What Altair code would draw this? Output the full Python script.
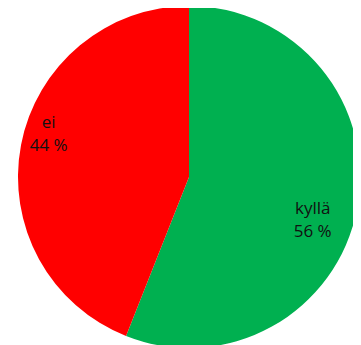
import altair as alt
import pandas as pd

categories = ["kyllä", "ei"]
values = [56, 44]
labels = ["56 %", "44 %"]
colors = ["#00B050", "#FF0000"]

df = pd.DataFrame({"category": categories, "value": values, "label": labels,
                   "order": list(range(len(categories)))})
df["text"] = [f"{c}\n{l}" for c, l in zip(categories, labels)]

CX, CY = 181, 169

base = alt.Chart(df).encode(
    theta=alt.Theta("value:Q", stack=True),
    order=alt.Order("order:Q"),
    x=alt.value(CX), y=alt.value(CY),
)

pie = base.mark_arc(radius=171).encode(
    color=alt.Color("category:N", scale=alt.Scale(domain=categories, range=colors), legend=None),
)

def label_layer(cat, r, dx, dy):
    return base.mark_text(radius=r, dx=dx, dy=dy, font="Open Sans", fontSize=17,
                          lineHeight=23, lineBreak="\n", color="#111111", align="center",
                          baseline="middle").encode(
        text=alt.condition(f"datum.category == '{cat}'", alt.Text("text:N"), alt.value("")),
    )

chart = alt.layer(
    pie,
    label_layer("ei", 148, 5, -26),
    label_layer("kyllä", 131, -5, 7),
).properties(
    width=345, height=337, padding=0, autosize="none",
).configure_view(stroke=None)

chart.save("out.html", embed_options={"renderer": "svg", "actions": False})
